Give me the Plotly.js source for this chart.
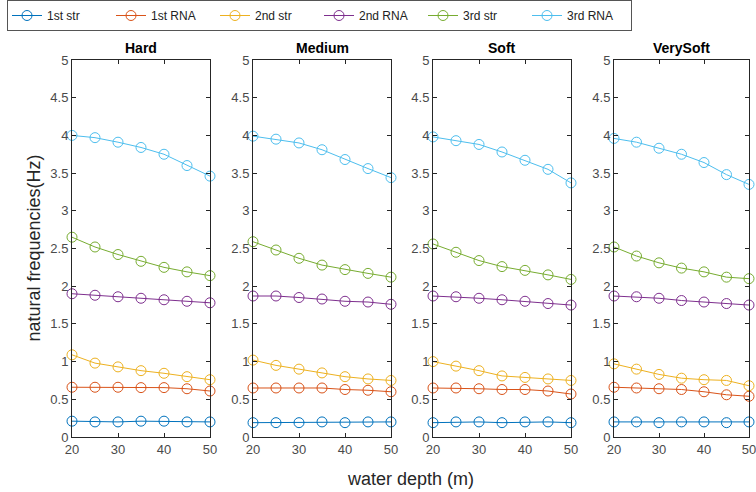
<!DOCTYPE html>
<html>
<head>
<meta charset="utf-8">
<script src="https://cdn.plot.ly/plotly-3.0.1.min.js"></script>
<style>html,body{margin:0;padding:0;background:#fff;}#chart{width:756px;height:492px;}</style>
</head>
<body>
<div id="chart"></div>
<script>
const depth = [20, 25, 30, 35, 40, 45, 50];
const panels = ["Hard", "Medium", "Soft", "VerySoft"];
const seriesNames = ["1st str", "1st RNA", "2nd str", "2nd RNA", "3rd str", "3rd RNA"];
const seriesColors = ["#0072BD", "#D95319", "#EDB120", "#7E2F8E", "#77AC30", "#4DBEEE"];

const hard = [
  [0.21, 0.20, 0.20, 0.21, 0.21, 0.20, 0.20],
  [0.66, 0.66, 0.66, 0.655, 0.655, 0.64, 0.61],
  [1.09, 0.98, 0.93, 0.88, 0.845, 0.80, 0.76],
  [1.90, 1.88, 1.86, 1.84, 1.82, 1.80, 1.78],
  [2.65, 2.52, 2.42, 2.33, 2.25, 2.19, 2.14],
  [4.00, 3.97, 3.91, 3.84, 3.75, 3.60, 3.46]
];
const medium = [
  [0.19, 0.19, 0.19, 0.20, 0.19, 0.20, 0.20],
  [0.65, 0.65, 0.65, 0.65, 0.63, 0.62, 0.60],
  [1.02, 0.95, 0.90, 0.85, 0.80, 0.77, 0.75],
  [1.87, 1.87, 1.85, 1.83, 1.80, 1.79, 1.76],
  [2.59, 2.48, 2.37, 2.28, 2.22, 2.17, 2.12],
  [3.99, 3.95, 3.90, 3.81, 3.68, 3.56, 3.44]
];
const soft = [
  [0.19, 0.20, 0.20, 0.19, 0.20, 0.20, 0.19],
  [0.65, 0.65, 0.64, 0.63, 0.63, 0.61, 0.57],
  [1.00, 0.94, 0.88, 0.81, 0.79, 0.77, 0.75],
  [1.87, 1.86, 1.84, 1.82, 1.80, 1.77, 1.75],
  [2.56, 2.45, 2.34, 2.26, 2.21, 2.15, 2.09],
  [3.98, 3.93, 3.88, 3.78, 3.67, 3.55, 3.37]
];
const verySoft = [
  [0.20, 0.20, 0.19, 0.20, 0.20, 0.19, 0.20],
  [0.66, 0.65, 0.64, 0.63, 0.60, 0.56, 0.54],
  [0.97, 0.90, 0.83, 0.78, 0.76, 0.75, 0.68],
  [1.87, 1.86, 1.84, 1.81, 1.79, 1.77, 1.75],
  [2.52, 2.40, 2.31, 2.24, 2.19, 2.12, 2.10],
  [3.96, 3.91, 3.83, 3.75, 3.64, 3.48, 3.35]
];
const xTickVals = [20, 30, 40, 50];
const yTickVals = [0, 0.5, 1, 1.5, 2, 2.5, 3, 3.5, 4, 4.5, 5];
const yTickText = ["0", "0.5", "1", "1.5", "2", "2.5", "3", "3.5", "4", "4.5", "5"];

const panelData = [hard, medium, soft, verySoft];
const FONT = "'Liberation Sans', Arial, Helvetica, sans-serif";
const AX = "#262626";

const traces = [];
panelData.forEach((pd, p) => {
  pd.forEach((vals, s) => {
    traces.push({
      x: depth, y: vals, type: "scatter", mode: "lines+markers",
      name: seriesNames[s],
      legendgroup: seriesNames[s],
      showlegend: p === 0,
      xaxis: p === 0 ? "x" : "x" + (p + 1),
      yaxis: p === 0 ? "y" : "y" + (p + 1),
      line: { color: seriesColors[s], width: 1 },
      marker: { symbol: "circle-open", size: 10, color: seriesColors[s], line: { width: 1, color: seriesColors[s] } },
      cliponaxis: false
    });
  });
});

// plot-area pixel geometry: left 72, right 749, top 60, bottom 437
const W = 677;
const pix = [[72, 210], [253, 391], [433, 571], [614, 749]];
const layout = {
  width: 756, height: 492,
  margin: { l: 72, r: 7, t: 60, b: 55 },
  paper_bgcolor: "#fff", plot_bgcolor: "#fff",
  font: { family: FONT, size: 13, color: "#4a4a4a" },
  showlegend: true,
  legend: {
    orientation: "h", xref: "container", yref: "container",
    x: 7 / 756, xanchor: "left", y: 1, yanchor: "top",
    bgcolor: "#fff", bordercolor: "#555", borderwidth: 1,
    font: { family: FONT, size: 12, color: "#222" },
    entrywidth: 59, entrywidthmode: "pixels", tracegroupgap: 0
  },
  annotations: []
};
pix.forEach((pr, i) => {
  const xa = i === 0 ? "xaxis" : "xaxis" + (i + 1);
  const ya = i === 0 ? "yaxis" : "yaxis" + (i + 1);
  const xn = i === 0 ? "x" : "x" + (i + 1);
  layout[xa] = {
    domain: [(pr[0] - 72) / W, (pr[1] - 72) / W], range: [20, 50], anchor: i === 0 ? "y" : "y" + (i + 1),
    tickmode: "array", tickvals: xTickVals, ticks: "inside", ticklen: 4, tickcolor: AX,
    showline: true, linecolor: AX, linewidth: 1, mirror: "ticks",
    showgrid: false, zeroline: false, tickfont: { size: 13, color: "#4a4a4a" },
    ticklabeloverflow: "allow"
  };
  layout[ya] = {
    domain: [0, 1], range: [0, 5], anchor: xn,
    tickmode: "array", tickvals: yTickVals, ticktext: yTickText, ticks: "inside", ticklen: 4, tickcolor: AX,
    showline: true, linecolor: AX, linewidth: 1, mirror: "ticks",
    showgrid: false, zeroline: false, tickfont: { size: 13, color: "#4a4a4a" }
  };
  layout.annotations.push({
    text: "<b>" + panels[i] + "</b>", xref: xn + " domain", x: 0.5, xanchor: "center",
    yref: "paper", y: 1 + 12 / 377, yanchor: "middle", showarrow: false,
    font: { family: FONT, size: 14, color: "#000" }
  });
});
layout.annotations.push({
  text: "natural frequencies(Hz)", xref: "paper", yref: "paper", x: (33 - 72) / W, y: 0.5,
  xanchor: "center", yanchor: "middle", textangle: -90, showarrow: false,
  font: { family: FONT, size: 18, color: "#262626" }
});
layout.annotations.push({
  text: "water depth (m)", xref: "paper", yref: "paper", x: 0.5, y: (437 - 479) / 377,
  xanchor: "center", yanchor: "middle", showarrow: false,
  font: { family: FONT, size: 18, color: "#262626" }
});

Plotly.newPlot("chart", traces, layout, { displayModeBar: false, staticPlot: true });
</script>
</body>
</html>
